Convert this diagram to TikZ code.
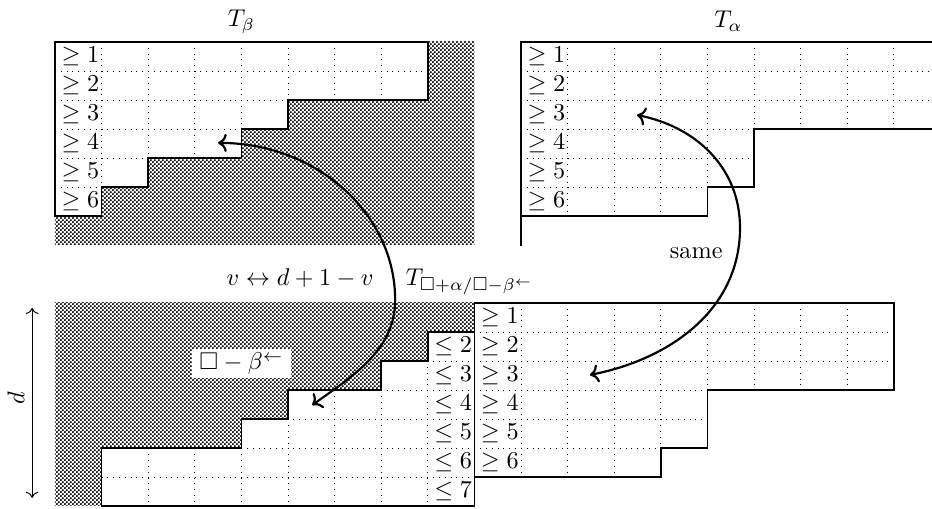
\documentclass[tikz,border=0pt]{standalone}
\usepackage{amsmath}
\usepackage{amssymb}
\usepackage{tikz}
\usetikzlibrary{
	arrows.meta,
	patterns
}
\pgfdeclarepatternformonly{fine dots}{\pgfqpoint{0pt}{0pt}}{\pgfqpoint{1.8pt}{1.8pt}}{\pgfqpoint{1.8pt}{1.8pt}}{%
	\pgfpathcircle{\pgfqpoint{0.45pt}{0.45pt}}{0.56pt}%
	\pgfpathcircle{\pgfqpoint{1.35pt}{1.35pt}}{0.56pt}%
	\pgfusepath{fill}}
\tikzset{
	shaded/.style={pattern=fine dots},
	frame/.style={semithick},
	cellgrid/.style={dotted, thin},
	entry/.style={anchor=east, inner sep=0pt},
	swap/.style={<->, line width=0.9pt},
}

\begin{document}
\begin{tikzpicture}[x=0.6757cm, y=-0.4205cm]
		\useasboundingbox (-1.18,-1.448) rectangle (18.82,16.07);
		% T_beta in its d x 9 box
		\fill[shaded] (0,0) rectangle (9,7);
		\filldraw[fill=white, frame] (0,0) -- (8,0) -- (8,2) -- (5,2) -- (5,3) -- (4,3) -- (4,4) -- (2,4) -- (2,5) -- (1,5) -- (1,6) -- (0,6) -- cycle;
		\begin{scope}
			\clip (0,0) -- (8,0) -- (8,2) -- (5,2) -- (5,3) -- (4,3) -- (4,4) -- (2,4) -- (2,5) -- (1,5) -- (1,6) -- (0,6) -- cycle;
			\foreach \i in {1,...,8} \draw[cellgrid] (\i,0) -- (\i,7);
			\foreach \j in {1,...,5} \draw[cellgrid] (0,\j) -- (9,\j);
		\end{scope}
		\foreach \k in {1,...,6} \node[entry] (beta\k) at (0.96,\k-0.5) {$\geq \k$};
		\node[anchor=base] (tbeta) at (4,-0.52) {$T_\beta$};
		% T_alpha
		\draw[frame] (18.82,0) -- (10,0) -- (10,7.05);
		\draw[frame] (18.82,3) -- (15,3) -- (15,5) -- (14,5) -- (14,6) -- (10,6);
		\begin{scope}
			\clip (10,0) -- (18.82,0) -- (18.82,3) -- (15,3) -- (15,5) -- (14,5) -- (14,6) -- (10,6) -- cycle;
			\foreach \i in {11,...,18} \draw[cellgrid] (\i,0) -- (\i,6);
			\foreach \j in {1,...,5} \draw[cellgrid] (10,\j) -- (18.82,\j);
		\end{scope}
		\foreach \k in {1,...,6} \node[entry] (alpha\k) at (10.96,\k-0.5) {$\geq \k$};
		\node[anchor=base] (talpha) at (14.45,-0.5) {$T_\alpha$};
		% complement of the reversed beta
		\fill[shaded] (0,9) rectangle (9,16);
		\filldraw[fill=white, frame] (9,10) -- (8,10) -- (8,11) -- (7,11) -- (7,12) -- (5,12) -- (5,13) -- (4,13) -- (4,14) -- (1,14) -- (1,16) -- (9,16) -- cycle;
		\begin{scope}
			\clip (9,10) -- (8,10) -- (8,11) -- (7,11) -- (7,12) -- (5,12) -- (5,13) -- (4,13) -- (4,14) -- (1,14) -- (1,16) -- (9,16) -- cycle;
			\foreach \i in {1,...,8} \draw[cellgrid] (\i,9) -- (\i,16);
			\foreach \j in {11,...,15} \draw[cellgrid] (0,\j) -- (9,\j);
		\end{scope}
		\foreach \k in {2,...,7} \node[entry] (low\k) at (8.96,8.5+\k) {$\leq \k$};
		\node[fill=white, inner xsep=3pt, inner ysep=1.5pt] (comp) at (4.0,11.1) {$\square-\beta^{\leftarrow}$};
		% skew tableau
		\draw[frame] (9,9) -- (18,9) -- (18,12) -- (14,12) -- (14,14) -- (13,14) -- (13,15) -- (9,15) -- cycle;
		\begin{scope}
			\clip (9,9) -- (18,9) -- (18,12) -- (14,12) -- (14,14) -- (13,14) -- (13,15) -- (9,15) -- cycle;
			\foreach \i in {10,...,17} \draw[cellgrid] (\i,9) -- (\i,15);
			\foreach \j in {10,...,14} \draw[cellgrid] (9,\j) -- (18,\j);
		\end{scope}
		\foreach \k in {1,...,6} \node[entry] (high\k) at (9.96,8.5+\k) {$\geq \k$};
		\node[anchor=base] (tskew) at (8.9,8.41) {$T_{\square+\alpha/\square-\beta^{\leftarrow}}$};
		% arrows
		\coordinate (swapA) at (3.50,3.48);
		\coordinate (swapB) at (5.52,12.52);
		\coordinate (sameA) at (12.49,2.52);
		\coordinate (sameB) at (11.48,11.48);
		\draw[swap] (swapA) .. controls (5.60,3.48) and (7.30,5.90) .. (7.30,8.90) .. controls (7.30,10.62) and (6.39,11.52) .. (swapB);
		\draw[swap] (sameA) .. controls (13.71,2.90) and (14.70,4.28) .. (14.70,6.41) .. controls (14.70,9.21) and (13.22,10.93) .. (sameB);
		\node[anchor=base] (flip) at (5.26,8.41) {$v \leftrightarrow d+1-v$};
		\node[anchor=base] (same) at (13.76,7.45) {same};
		% height d
		\coordinate (dtop) at (-0.49,9.17);
		\coordinate (dbot) at (-0.49,15.72);
		\draw[<->, thin] (dtop) -- (dbot);
		\node[rotate=90] (dlabel) at (-0.84,12.3) {$d$};
	\end{tikzpicture}
\end{document}
